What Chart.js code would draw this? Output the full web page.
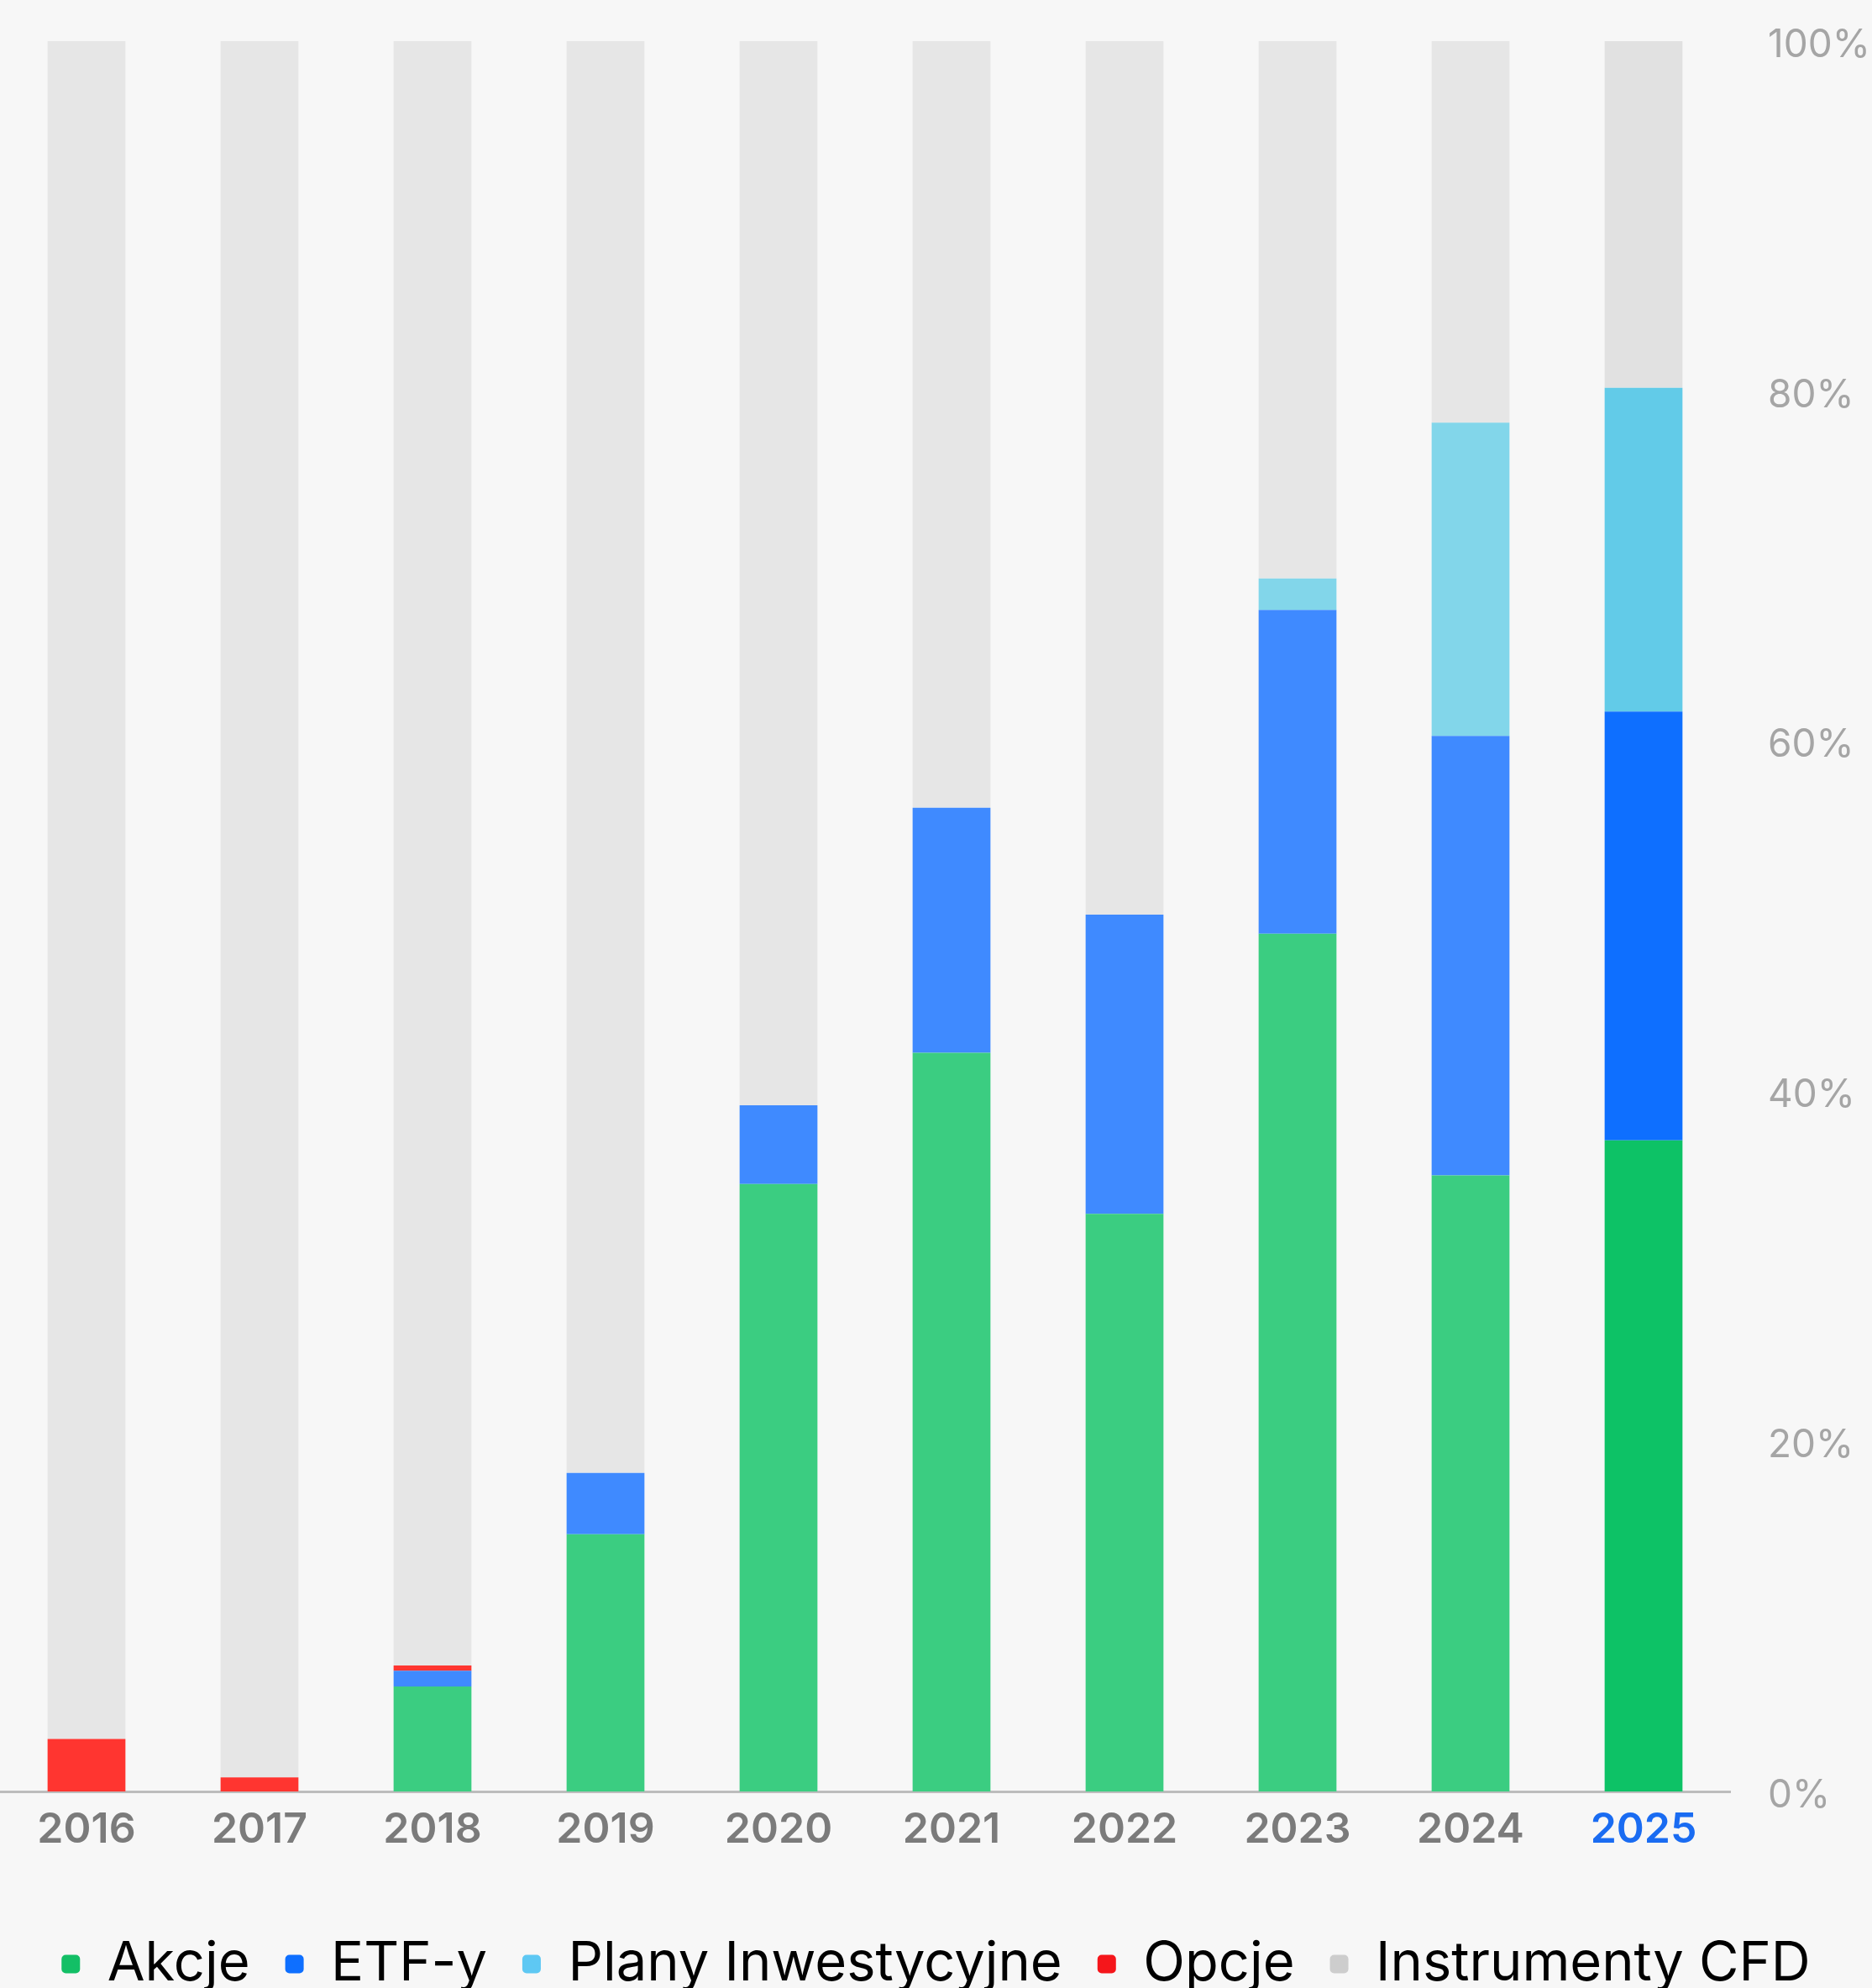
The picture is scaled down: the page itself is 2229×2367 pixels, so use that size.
<!DOCTYPE html>
<html lang="pl">
<head>
    <meta charset="UTF-8">
    <title>Struktura portfela</title>
    <script src="https://cdn.jsdelivr.net/npm/chart.js"></script>
    <style>
        html, body { margin: 0; padding: 0; background: #f7f7f7; }
        .wrap { width: 2229px; height: 2367px; position: relative; }
    </style>
</head>
<body>
    <div class="wrap"><canvas id="chart"></canvas></div>
    <script>
        // dane (% udziału)
        const years = ['2016', '2017', '2018', '2019', '2020', '2021', '2022', '2023', '2024', '2025'];
        const akcje = [0, 0, 6.0, 14.7, 34.7, 42.2, 33.0, 49.0, 35.2, 37.2];
        const etf = [0, 0, 0.9, 3.5, 4.5, 14.0, 17.1, 18.5, 25.1, 24.5];
        const plany = [0, 0, 0, 0, 0, 0, 0, 1.8, 17.9, 18.5];
        const opcje = [3.0, 0.8, 0.3, 0, 0, 0, 0, 0, 0, 0];
        const cfd = [97.0, 99.2, 92.8, 81.8, 60.8, 43.8, 49.9, 30.7, 21.8, 19.8];
        const yTicks = [0, 20, 40, 60, 80, 100];
        const highlightYear = '2025';

        // kolory: zwykłe słupki / wyróżniony rok / legenda
        const series = [
            { label: 'Akcje', data: akcje, color: '#3bcd81', hi: '#0dc266', legend: '#13bf66' },
            { label: 'ETF-y', data: etf, color: '#3f8aff', hi: '#0e6fff', legend: '#0e6fff' },
            { label: 'Plany Inwestycyjne', data: plany, color: '#82d6ea', hi: '#62cbe8', legend: '#5ec8f3' },
            { label: 'Opcje', data: opcje, color: '#ff3530', hi: '#ff3530', legend: '#f5161b' },
            { label: 'Instrumenty CFD', data: cfd, color: '#e6e6e6', hi: '#e1e1e1', legend: '#cdcdcd' }
        ];

        const datasets = series.map(s => ({
            label: s.label,
            data: s.data,
            backgroundColor: years.map(y => y === highlightYear ? s.hi : s.color),
            borderWidth: 0,
            barPercentage: 0.45,
            categoryPercentage: 1.0
        }));

        const ctx = document.getElementById('chart').getContext('2d');
        new Chart(ctx, {
            type: 'bar',
            data: { labels: years, datasets: datasets },
            options: {
                responsive: true,
                maintainAspectRatio: false,
                animation: false,
                layout: { padding: { top: 49, left: 0, right: 0, bottom: -14 } },
                plugins: {
                    tooltip: { enabled: false },
                    legend: {
                        position: 'bottom',
                        labels: {
                            color: '#111111',
                            font: { family: 'Inter', size: 65 },
                            boxWidth: 22,
                            boxHeight: 22,
                            padding: 42,
                            useBorderRadius: true,
                            borderRadius: 5,
                            generateLabels: chart => series.map((s, i) => ({
                                text: s.label,
                                fillStyle: s.legend,
                                strokeStyle: s.legend,
                                lineWidth: 0,
                                borderRadius: 5,
                                hidden: false,
                                datasetIndex: i
                            }))
                        }
                    }
                },
                scales: {
                    x: {
                        stacked: true,
                        grid: { display: false, drawTicks: false },
                        border: { display: true, color: '#bdbdbd', width: 3 },
                        ticks: {
                            padding: 16,
                            font: { family: 'Inter', size: 50, weight: '600' },
                            color: c => years[c.index] === highlightYear ? '#1a6cf2' : '#7b7b7b'
                        },
                        afterFit: s => { s.height = 131; }
                    },
                    y: {
                        stacked: true,
                        position: 'right',
                        min: 0,
                        max: 100,
                        afterBuildTicks: s => { s.ticks = yTicks.map(v => ({ value: v })); },
                        grid: { display: false, drawTicks: false },
                        border: { display: false },
                        ticks: {
                            padding: 45,
                            labelOffset: 5,
                            font: { family: 'Inter', size: 46 },
                            color: '#a5a5a5',
                            callback: v => v + '%'
                        },
                        afterFit: s => {
                            s.width = 169;
                            s.paddingTop = 0;
                            s.paddingBottom = 0;
                        }
                    }
                }
            }
        });
    </script>
</body>
</html>
